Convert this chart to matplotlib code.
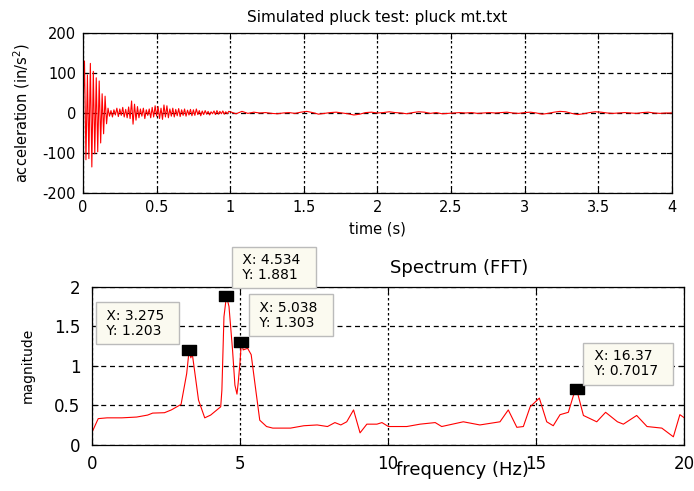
import numpy as np
import matplotlib
matplotlib.use("Agg")
import matplotlib.pyplot as plt
from matplotlib.path import Path

plt.rcParams['font.family'] = ['DejaVu Sans']
plt.rcParams['axes.unicode_minus'] = False

# acceleration, first second sampled every 0.01 s
acc_fast = [10, 130, -117, 95, -114, 124, -135, 104, -102, 88,
            -97, 80, -75, 48, -52, 42, -27, 12, -8, 6,
            -10, 8, -5, 12, -9, 10, -6, 14, -10, 9,
            -12, 15, -14, 30, -28, 22, -18, 16, -12, 10,
            -8, 12, -14, 8, -6, 10, -12, 14, -10, 18,
            -8, 16, -14, 12, -16, 20, -10, 18, -12, 10,
            -8, 12, -10, 9, -7, 11, -9, 8, -6, 10,
            -8, 7, -5, 9, -7, 8, -6, 10, -4, 6,
            -7, 5, -4, 6, -3, 4, -5, 3, -2, 5,
            -4, 6, -3, 4, -2, 5, -3, 3, -2, 4]
# acceleration from 1 s to 4 s, every 0.04 s
acc_slow = [3, -2, 4, -1, 2, 0, 1, -1, -2, 0, 1, -1, 2, 4, 1, -3, -1, 1, 2, 0, -2, -5, -3, 1, 2,
            0, 1, 3, 1, 0, -2, 1, 3, 2, -1, 1, -2, -1, 0, 1, 0, 1, -1, 0, 1, 0, 1, 2, 0, -1,
            1, 2, 0, -3, -1, 2, 4, 3, -1, -4, -2, 1, 3, 2, 0, -1, 0, 1, 0, -1, 1, 2, 0, -1, 0,
            0]

freq = [0, 0.2, 0.5, 1.0, 1.5, 1.87, 2.04, 2.44, 2.67, 3.0,
        3.19, 3.275, 3.33, 3.38, 3.59, 3.8, 4.0, 4.34, 4.38, 4.45,
        4.534, 4.62, 4.74, 4.82, 4.89, 4.93, 4.99, 5.038, 5.1, 5.25,
        5.37, 5.54, 5.66, 5.89, 6.1, 6.7, 7.15, 7.6, 7.95, 8.2,
        8.4, 8.6, 8.83, 9.05, 9.28, 9.62, 9.79, 10.01, 10.63, 11.08,
        11.59, 11.81, 12.54, 13.1, 13.78, 14.06, 14.35, 14.57, 14.8, 15.11,
        15.36, 15.58, 15.81, 16.09, 16.26, 16.37, 16.6, 17.05, 17.35, 17.75,
        17.95, 18.4, 18.75, 19.25, 19.64, 19.86, 20.09]
mag = [0.165, 0.33, 0.34, 0.34, 0.35, 0.375, 0.40, 0.405, 0.44, 0.51,
       0.90, 1.203, 1.10, 1.15, 0.565, 0.34, 0.375, 0.48, 0.69, 1.62,
       1.881, 1.75, 1.2, 0.755, 0.64, 0.78, 1.03, 1.303, 1.2, 1.22,
       1.14, 0.65, 0.31, 0.23, 0.21, 0.21, 0.24, 0.25, 0.23, 0.28,
       0.25, 0.29, 0.44, 0.15, 0.26, 0.26, 0.28, 0.23, 0.23, 0.26,
       0.28, 0.23, 0.29, 0.25, 0.29, 0.44, 0.22, 0.23, 0.48, 0.59,
       0.29, 0.24, 0.38, 0.41, 0.62, 0.7017, 0.37, 0.29, 0.41, 0.29,
       0.26, 0.37, 0.23, 0.21, 0.10, 0.38, 0.32]

tip_x = [3.275, 4.534, 5.038, 16.37]
tip_y = [1.203, 1.881, 1.303, 0.7017]

t = np.concatenate([np.arange(len(acc_fast)) * 0.01,
                    1.0 + np.arange(len(acc_slow)) * 0.04])
acc = np.array(acc_fast + acc_slow, dtype=float)

fig = plt.figure(figsize=(6.94, 4.91), dpi=100)
ax1 = fig.add_axes([0.1196, 0.607, 0.8484, 0.3258])
ax2 = fig.add_axes([0.133, 0.0943, 0.8526, 0.3218])

def matlab_style(ax, size, xpad, ypad):
    ax.grid(True, axis='x', color='k', linestyle=(0, (2, 2)), linewidth=0.9)
    ax.grid(True, axis='y', color='k', linestyle=(0, (4, 3)), linewidth=0.9)
    ax.set_axisbelow(True)
    ax.tick_params(direction='in', length=4, top=True, right=True, labelsize=size)
    ax.tick_params(axis='x', pad=xpad)
    ax.tick_params(axis='y', pad=ypad)
    for s in ax.spines.values():
        s.set_linewidth(0.9)

# top: time history
ax1.plot(t, acc, color='red', linewidth=0.8)
ax1.set_xlim(0, 4)
ax1.set_ylim(-200, 200)
ax1.set_xticks(np.arange(0, 4.01, 0.5))
ax1.set_xticklabels(['0', '0.5', '1', '1.5', '2', '2.5', '3', '3.5', '4'])
ax1.set_yticks([-200, -100, 0, 100, 200])
matlab_style(ax1, 10.5, 5, 5)
ax1.set_title('Simulated pluck test: pluck mt.txt', fontsize=11, pad=8)
ax1.set_xlabel('time (s)', fontsize=10.5, labelpad=5)
ax1.set_ylabel('acceleration (in/s$^2$)', fontsize=10.5)
ax1.yaxis.set_label_coords(-0.087, 0.5)

# bottom: spectrum
ax2.plot(freq, mag, color='red', linewidth=0.8)
ax2.set_xlim(0, 20)
ax2.set_ylim(0, 2)
ax2.set_xticks([0, 5, 10, 15, 20])
ax2.set_yticks([0, 0.5, 1, 1.5, 2])
ax2.set_yticklabels(['0', '0.5', '1', '1.5', '2'])
matlab_style(ax2, 12, 7.5, 8.5)
ax2.text(0.62, 1.085, 'Spectrum (FFT)', transform=ax2.transAxes,
         ha='center', va='baseline', fontsize=13)
ax2.set_xlabel('frequency (Hz)', fontsize=13)
ax2.xaxis.set_label_coords(0.625, -0.105)
ax2.set_ylabel('magnitude', fontsize=10)
ax2.yaxis.set_label_coords(-0.097, 0.5)

# datatip markers and boxes
rect = Path([(-1, -0.65), (1, -0.65), (1, 0.65), (-1, 0.65), (-1, -0.65)],
            [Path.MOVETO, Path.LINETO, Path.LINETO, Path.LINETO, Path.CLOSEPOLY])
ax2.plot(tip_x, tip_y, linestyle='none', marker=rect, markersize=10,
         color='black', zorder=6, clip_on=False)

offsets = [(-16, 12, 'right'), (12, 14, 'left'), (14, 12, 'left'), (13, 11, 'left')]
for x, y, (dx, dy, ha) in zip(tip_x, tip_y, offsets):
    ax2.annotate(' X: %g  \n Y: %g  ' % (x, y), xy=(x, y), xytext=(dx, dy),
                 textcoords='offset pixels', ha=ha, va='bottom',
                 multialignment='left', fontsize=10, linespacing=1.1,
                 bbox=dict(boxstyle='square,pad=0.45', fc='#FBFAF0', ec='#BBBBBB', lw=1),
                 zorder=7, annotation_clip=False)

fig.savefig('out.png', dpi=100)
